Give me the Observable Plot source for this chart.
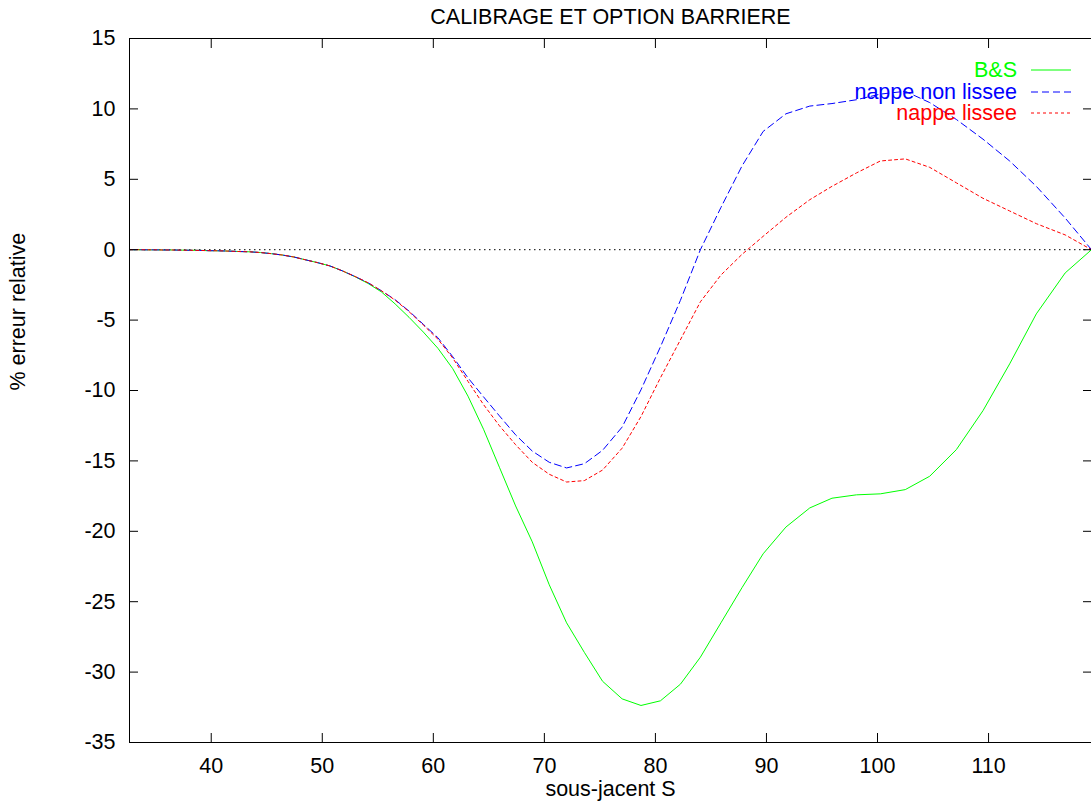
<!DOCTYPE html>
<html><head><meta charset="utf-8">
<script src="https://cdn.jsdelivr.net/npm/d3@7"></script>
<script src="https://cdn.jsdelivr.net/npm/@observablehq/plot@0.6"></script>
<style>body{margin:0;background:#fff;} svg{display:block}</style>
</head><body><div id="chart"></div>
<script>
const titleText = "CALIBRAGE ET OPTION BARRIERE";
const xLabel = "sous-jacent S";
const yLabel = "% erreur relative";

const S = [32.67, 33.39, 34.13, 34.89, 35.66, 36.46, 37.27, 38.09, 38.94, 39.80,
  40.69, 41.59, 42.51, 43.46, 44.42, 45.41, 46.42, 47.45, 48.50, 49.58,
  50.68, 51.80, 52.95, 54.13, 55.33, 56.56, 57.81, 59.10, 60.41, 61.75,
  63.12, 64.52, 65.95, 67.41, 68.91, 70.44, 72.00, 73.60, 75.24, 77.00,
  78.70, 80.45, 82.25, 84.05, 85.90, 87.80, 89.70, 91.75, 93.90, 95.90,
  98.10, 100.25, 102.50, 104.70, 107.10, 109.50, 111.90, 114.30, 116.90, 119.27];

const bs = [0, 0, -0.01, -0.01, -0.02, -0.02, -0.03, -0.04, -0.05, -0.07,
  -0.08, -0.10, -0.13, -0.15, -0.20, -0.28, -0.38, -0.52, -0.72, -0.92,
  -1.15, -1.50, -1.92, -2.40, -3.00, -3.85, -4.80, -5.85, -7.00, -8.45,
  -10.40, -12.75, -15.45, -18.20, -20.75, -23.80, -26.50, -28.60, -30.65, -31.90,
  -32.37, -32.04, -30.86, -28.94, -26.50, -24.00, -21.60, -19.70, -18.34, -17.65,
  -17.41, -17.34, -17.04, -16.09, -14.20, -11.43, -8.11, -4.56, -1.65, 0];

const nonLissee = [0, 0, -0.01, -0.01, -0.02, -0.02, -0.03, -0.04, -0.05, -0.07,
  -0.08, -0.10, -0.13, -0.15, -0.20, -0.28, -0.38, -0.52, -0.72, -0.92,
  -1.15, -1.50, -1.90, -2.35, -2.92, -3.55, -4.36, -5.30, -6.25, -7.60,
  -9.10, -10.45, -11.80, -13.15, -14.30, -15.10, -15.50, -15.20, -14.25, -12.60,
  -9.95, -6.90, -3.60, 0.00, 3.00, 5.95, 8.40, 9.65, 10.20, 10.38,
  10.65, 11.05, 11.25, 10.45, 9.25, 7.85, 6.30, 4.50, 2.25, 0];

const lissee = [0, 0, -0.01, -0.01, -0.02, -0.02, -0.03, -0.04, -0.05, -0.07,
  -0.08, -0.10, -0.13, -0.15, -0.20, -0.28, -0.38, -0.52, -0.72, -0.92,
  -1.15, -1.50, -1.90, -2.35, -2.92, -3.58, -4.40, -5.35, -6.35, -7.70,
  -9.35, -11.00, -12.50, -13.85, -15.10, -15.95, -16.50, -16.40, -15.65, -14.10,
  -11.85, -9.10, -6.40, -3.70, -1.80, -0.33, 0.95, 2.30, 3.55, 4.50,
  5.45, 6.30, 6.45, 5.85, 4.75, 3.65, 2.75, 1.85, 1.05, 0];

const xTicks = [40, 50, 60, 70, 80, 90, 100, 110];
const yTicks = [-35, -30, -25, -20, -15, -10, -5, 0, 5, 10, 15];

const seriesNames = ["B&S", "nappe non lissee", "nappe lissee"];
const seriesColors = ["#00ff00", "#0000ff", "#ff0000"];
const seriesDash = ["none", "7,4", "3,3"];
const seriesValues = [bs, nonLissee, lissee];

const rows = [];
seriesNames.forEach((name, k) => {
  S.forEach((s, i) => rows.push({series: name, S: s, v: seriesValues[k][i]}));
});

const font = "Liberation Sans, Arial, Helvetica, sans-serif";
const fs = 21.5;
const plainFormat = d => String(d);

const lines = seriesNames.map((name, k) =>
  Plot.line(rows.filter(d => d.series === name), {
    x: "S", y: "v", stroke: seriesColors[k], strokeWidth: 1,
    strokeDasharray: seriesDash[k] === "none" ? undefined : seriesDash[k]
  })
);

const chart = Plot.plot({
  width: 1091, height: 801,
  marginLeft: 129, marginRight: 0, marginTop: 38, marginBottom: 59,
  style: {fontFamily: font, fontSize: fs + "px", background: "#fff", color: "#000"},
  x: {domain: [32.64, 119.27]},
  y: {domain: [-35, 15]},
  marks: [
    Plot.ruleY([0], {stroke: "#000", strokeWidth: 1, strokeDasharray: "1.5,3.5"}),
    ...lines,
    Plot.frame({stroke: "#000", strokeWidth: 1}),
    Plot.axisX({anchor: "bottom", ticks: xTicks, tickFormat: plainFormat, tickSize: 0, tickPadding: 15, label: null, fontSize: fs}),
    Plot.axisX({anchor: "bottom", ticks: xTicks, tickSize: -9, text: null, label: null}),
    Plot.axisX({anchor: "top", ticks: xTicks, tickSize: -9, text: null, label: null}),
    Plot.axisY({anchor: "left", ticks: yTicks, tickFormat: plainFormat, tickSize: 0, tickPadding: 14, label: null, fontSize: fs}),
    Plot.axisY({anchor: "left", ticks: yTicks, tickSize: -9, text: null, label: null}),
    Plot.axisY({anchor: "right", ticks: yTicks, tickSize: -9, text: null, label: null}),
    Plot.text([titleText], {frameAnchor: "top", lineAnchor: "bottom", dy: -15, fontSize: fs, text: d => d}),
    Plot.text([xLabel], {frameAnchor: "bottom", lineAnchor: "bottom", dy: 53, fontSize: fs, text: d => d}),
    Plot.text([yLabel], {frameAnchor: "left", rotate: -90, dx: -111, fontSize: fs, text: d => d})
  ]
});

// Legend (gnuplot style, top right inside the frame)
const svg = d3.select(chart);
const lg = svg.append("g").attr("font-family", font).attr("font-size", fs);
seriesNames.forEach((name, k) => {
  const yb = 77 + k * 21.5;
  const yl = Math.round(yb - 7);
  lg.append("text").attr("x", 1017).attr("y", yb).attr("text-anchor", "end")
    .attr("fill", seriesColors[k]).text(name);
  lg.append("line").attr("x1", 1031).attr("x2", 1071).attr("y1", yl).attr("y2", yl)
    .attr("stroke", seriesColors[k]).attr("stroke-width", 1)
    .attr("stroke-dasharray", seriesDash[k]);
});

document.getElementById("chart").appendChild(chart);
</script>
</body></html>
